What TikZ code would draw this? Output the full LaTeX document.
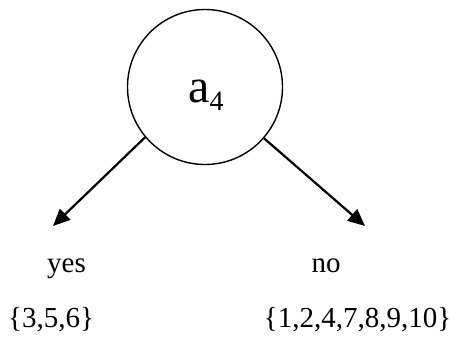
\documentclass[tikz,border=0pt]{standalone}
\usepackage{fontspec}
\setmainfont{Liberation Serif}
\usetikzlibrary{arrows.meta}
\begin{document}
\begin{tikzpicture}[x=1pt,y=-1pt,
  arr/.style={line width=2.2pt,-{Triangle[length=17pt,width=15pt]}},
  lbl/.style={anchor=base,inner sep=0pt,font=\fontsize{29}{32}\selectfont}]
\useasboundingbox (0,0) rectangle (452,341);
\node[circle,draw,line width=1.4pt,minimum size=155pt,inner sep=0pt] (root) at (205,87) {};
\node[anchor=base,inner sep=0pt] (name) at (206,102) {\fontsize{48}{52}\selectfont a\raisebox{-8pt}{\fontsize{28}{30}\selectfont 4}};
\coordinate (yesend) at (53,226);
\coordinate (noend) at (365,226);
\draw[arr] (root.220) -- (yesend);
\draw[arr] (root.319) -- (noend);
\node[lbl] (yes) at (66.5,272) {yes};
\node[lbl] (no) at (326,272) {no};
\node[lbl] (yesset) at (51,327) {\{3,5,6\}};
\node[lbl] (noset) at (357.5,327) {\{1,2,4,7,8,9,10\}};
\end{tikzpicture}
\end{document}
